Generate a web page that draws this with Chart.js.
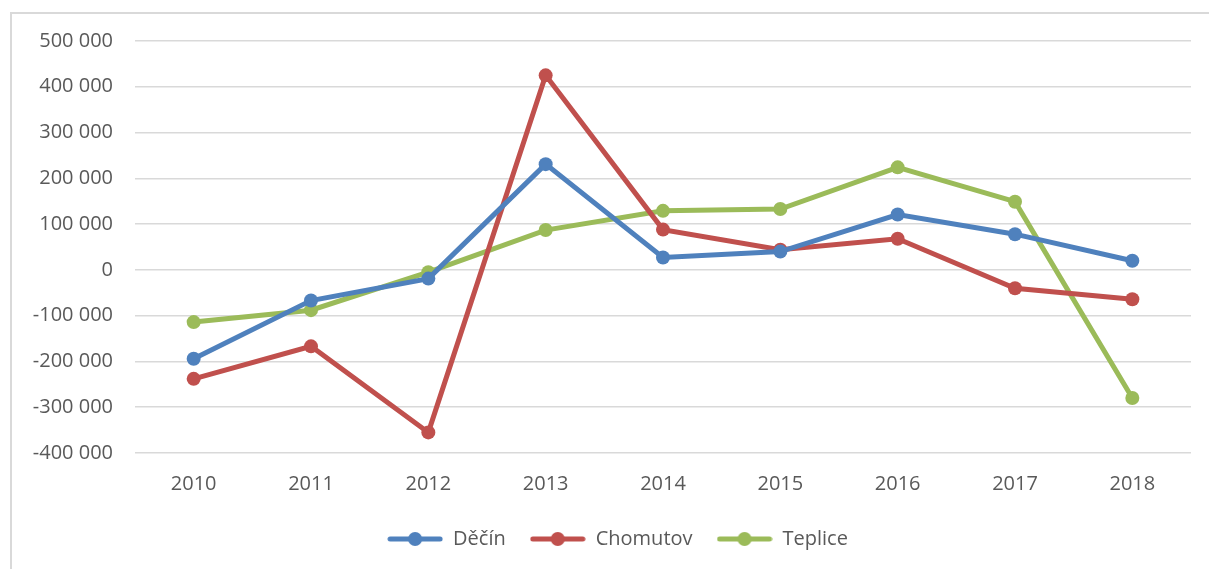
<!DOCTYPE html>
<html>
<head>
<meta charset="utf-8">
<script src="https://cdn.jsdelivr.net/npm/chart.js@4/dist/chart.umd.min.js"></script>
<style>
  html,body{margin:0;padding:0;background:#fff;overflow:hidden;}
  #frame{position:absolute;left:10px;top:12px;width:1220px;height:580px;border:2px solid #d9d9d9;}
  #wrap{position:absolute;left:0;top:0;width:1209px;height:569px;}
</style>
</head>
<body>
<div id="frame"></div>
<div id="wrap"><canvas id="c"></canvas></div>
<script>
const years=['2010','2011','2012','2013','2014','2015','2016','2017','2018'];
const decin=[-194000,-67000,-19000,231000,27000,40000,121000,78000,20000];
const chomutov=[-238000,-167000,-355000,425000,88000,44000,68000,-40000,-64000];
const teplice=[-114000,-88000,-5000,87000,129000,133000,224000,149000,-280000];
const yMin=-400000, yMax=500000, yStep=100000;

const textColor='#595959';
const fontFam='"Open Sans", "Noto Sans", sans-serif';

function fmt(v){
  const s=Math.abs(v).toString().replace(/\B(?=(\d{3})+(?!\d))/g,' ');
  return (v<0?'-':'')+s;
}

// legend marker: line with a dot
function legendIcon(color){
  const cv=document.createElement('canvas');
  cv.width=56; cv.height=16;
  const g=cv.getContext('2d');
  g.strokeStyle=color; g.lineWidth=5; g.lineCap='round';
  g.beginPath(); g.moveTo(3,8); g.lineTo(53,8); g.stroke();
  g.fillStyle=color; g.beginPath(); g.arc(28,8,7,0,Math.PI*2); g.fill();
  return cv;
}

function ds(label,data,color){
  return {label,data,borderColor:color,backgroundColor:color,borderWidth:5,
    pointRadius:7,pointHoverRadius:7,pointBorderWidth:0,pointStyle:'circle',
    tension:0,pointStyleIcon:legendIcon(color)};
}

const datasets=[ds('Děčín',decin,'#4f81bd'),ds('Chomutov',chomutov,'#c0504d'),ds('Teplice',teplice,'#9bbb59')];

// nudge the legend a bit to the right, like the original
const legendShift={id:'legendShift',afterLayout(chart){
  const l=chart.legend; if(!l) return;
  l.left+=22; l.right+=22;
}};

new Chart(document.getElementById('c'),{
  type:'line',
  data:{labels:years,datasets},
  plugins:[legendShift],
  options:{
    responsive:true,maintainAspectRatio:false,animation:false,
    layout:{padding:{top:41,right:18,left:0,bottom:10}},
    plugins:{
      tooltip:{enabled:false},
      legend:{position:'bottom',
        labels:{color:textColor,font:{family:fontFam,size:20},padding:24,usePointStyle:true,pointStyleWidth:56,
          generateLabels(chart){
            return chart.data.datasets.map((d,i)=>({text:d.label,fillStyle:d.borderColor,strokeStyle:d.borderColor,
              lineWidth:0,pointStyle:d.pointStyleIcon,datasetIndex:i,fontColor:textColor,hidden:false}));
          }}}
    },
    scales:{
      x:{offset:true,grid:{display:false,offset:true},border:{display:false},
        ticks:{color:textColor,font:{family:fontFam,size:20},padding:11,maxRotation:0},
        afterFit(s){s.height=52;}},
      y:{min:yMin,max:yMax,
        grid:{color:'#d9d9d9',lineWidth:1.5,drawTicks:false},border:{display:false},
        ticks:{stepSize:yStep,color:textColor,font:{family:fontFam,size:20},padding:22,callback:v=>fmt(v)},
        afterFit(s){s.width=135;}}
    }
  }
});
</script>
</body>
</html>
